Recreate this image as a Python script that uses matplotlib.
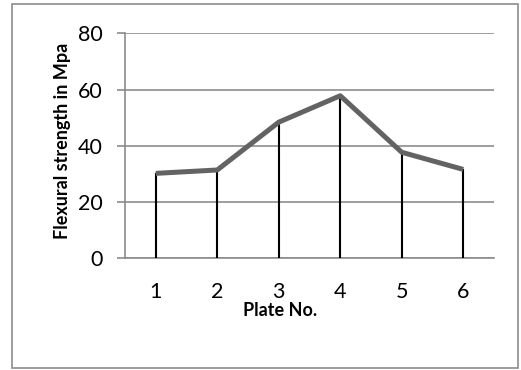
import matplotlib
matplotlib.use('Agg')
import matplotlib.pyplot as plt
from matplotlib.patches import Rectangle

# Data
plates = [1, 2, 3, 4, 5, 6]
strength = [30.2, 31.4, 48.4, 57.8, 37.7, 31.6]
y_ticks = [0, 20, 40, 60, 80]

W, H = 521, 370
fig = plt.figure(figsize=(W / 100, H / 100), dpi=100)
plt.rcParams['font.family'] = ['Lato', 'DejaVu Sans']

# outer chart frame
fig.patches.append(Rectangle((12 / W, 2 / H), 506 / W, 364 / H,
                             transform=fig.transFigure, fill=False,
                             edgecolor='#8c8c8c', linewidth=1.2))

ax = fig.add_axes([125 / W, 1 - 258.3 / H, 369 / W, 225 / H])

# drop lines and the series line
ax.vlines(plates, 0, strength, colors='black', linewidth=1.5, zorder=3)
ax.plot(plates, strength, color='#636363', linewidth=3.6,
        solid_capstyle='butt', zorder=4)

ax.set_xlim(0.5, 6.5)
ax.set_ylim(0, 80)
ax.set_yticks(y_ticks)
ax.set_xticks(plates)
ax.grid(axis='y', color='#8c8c8c', linewidth=1.2)
ax.set_axisbelow(True)

for s in ['top', 'right']:
    ax.spines[s].set_visible(False)
for s in ['left', 'bottom']:
    ax.spines[s].set_color('#8c8c8c')
    ax.spines[s].set_linewidth(1.2)

ax.tick_params(axis='y', length=5.8, width=1.2, color='#8c8c8c',
               labelsize=15.5, pad=10)
ax.tick_params(axis='x', length=0, labelsize=15.5, pad=17)

ax.set_ylabel('Flexural strength in Mpa', fontsize=13, fontweight='bold')
ax.yaxis.set_label_coords((62.5 - 125) / 369, 0.521)
ax.set_xlabel('Plate No.', fontsize=13, fontweight='bold')
ax.xaxis.set_label_coords((280 - 125) / 369, -(310 - 258.3) / 225)
ax.xaxis.label.set_va('center')
ax.yaxis.label.set_va('center')

fig.savefig('out.png', dpi=100)
